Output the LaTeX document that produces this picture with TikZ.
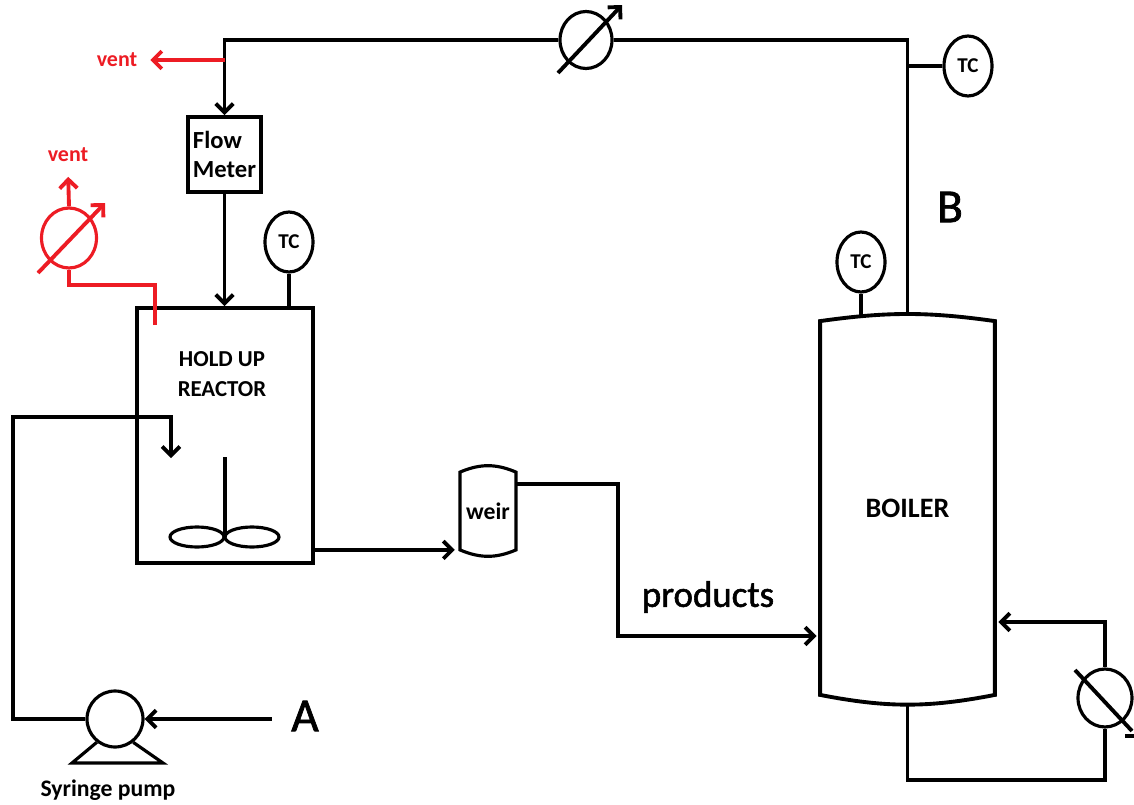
\documentclass[tikz,border=0pt]{standalone}
\usepackage{fontspec}
\setmainfont{Carlito}
\newfontfamily\heavyfont{Carlito}[FakeBold=1.5]
\usetikzlibrary{arrows.meta}
\usetikzlibrary{shapes.geometric}
\usetikzlibrary{positioning}
\definecolor{paintred}{RGB}{237,28,36}

\begin{document}
\begin{tikzpicture}[x=0.02cm,y=-0.02cm,line width=2.2pt,
  >={Straight Barb[length=5pt,width=10pt]},
  every node/.style={font=\bfseries\fontsize{13}{17}\selectfont},
  box/.style={draw,rectangle,inner sep=0pt},
  tc/.style={draw,ellipse,line width=1.8pt,inner sep=0pt,minimum width=0.96cm,minimum height=1.2cm,font=\bfseries\fontsize{12}{14}\selectfont},
  hx/.style={draw,ellipse,line width=1.8pt,inner sep=0pt,minimum width=1.04cm,minimum height=1.14cm},
  blade/.style={draw,ellipse,line width=1.8pt,inner sep=0pt,minimum width=1.08cm,minimum height=0.4cm},
  ventlbl/.style={text=paintred,font=\bfseries\fontsize{12.5}{14}\selectfont},
  biglbl/.style={inner sep=10pt,font=\heavyfont\fontsize{27}{30}\selectfont}]
  \useasboundingbox (0,0) rectangle (1134,805);

  \node[box,align=left,minimum width=1.46cm,minimum height=1.5cm,font=\bfseries\fontsize{14}{17}\selectfont] (flowmeter) at (224.5,154.5) {Flow\\Meter};
  \node[box,minimum width=3.52cm,minimum height=5.1cm] (reactor) at (225,435.5) {};
  \node[align=center] (reactorlbl) at (222,374) {HOLD UP\\REACTOR};
  \node[tc] (tc1) at (289,242) {TC};
  \node[tc] (tc2) at (968,66) {TC};
  \node[tc] (tc3) at (861,262) {TC};
  \node[hx] (hx1) at (586,40) {};
  \node[hx,paintred,minimum width=1.1cm,minimum height=1.2cm] (hx2) at (69,238) {};
  \node[hx,minimum width=1.08cm,minimum height=1.16cm] (hx3) at (1105,698) {};
  \node[ventlbl] (vent1) at (117,60) {vent};
  \node[ventlbl] (vent2) at (68,155) {vent};
  \node[minimum width=1.04cm,minimum height=1.48cm,inner sep=0pt,font=\bfseries\fontsize{13.5}{15}\selectfont] (weir) at (488,511) {weir};
  \node[minimum width=3.42cm,minimum height=7.4cm,inner sep=0pt,font=\bfseries\fontsize{16}{18}\selectfont] (boiler) at (907.5,508) {BOILER};
  \node[draw,circle,line width=1.8pt,minimum size=1.12cm,inner sep=0pt] (pump) at (115,719) {};
  \node[font=\bfseries\fontsize{13.5}{16}\selectfont] (pumplbl) at (108,790) {Syringe pump};
  \node[biglbl] (A) at (305,716) {A};
  \node[biglbl] (B) at (950,207) {B};
  \node[font=\heavyfont\fontsize{21}{24}\selectfont] (products) at (708,597) {products};
  \node[blade] (blade1) at (197,537) {};
  \node[blade] (blade2) at (252,537) {};
  \coordinate (shafttop) at (225,457);
  \coordinate (redin) at (155,325);
  \coordinate (feedtop) at (13,417);
  \coordinate (feedin) at (171,458);
  \coordinate (bend) at (618,636);
  \coordinate (loop) at (1105,780);
  \coordinate (ret) at (1105,622);

  \draw[line width=1.8pt] (weir.north west) to[bend left=23] (weir.north east) -- (weir.south east) to[bend left=23] (weir.south west) -- cycle;
  \draw (boiler.north west) to[bend left=8] (boiler.north east) -- (boiler.south east) to[bend left=11] (boiler.south west) -- cycle;
  \draw[line width=1.8pt] (pump.-128) -- (72,763) -- (163,763) -- (pump.-52);
  \draw (shafttop) -- (shafttop |- blade1.east);

  \draw[->] (hx1.west) -| (flowmeter.north);
  \draw (hx1.east) -| ([shift={(0,-7)}]boiler.north);
  \draw[->] ([shift={(-28,33)}]hx1.center) -- ([shift={(36,-35)}]hx1.center);
  \draw[paintred,->,shorten >=3pt] (flowmeter.north |- vent1.east) -- (vent1.east);
  \draw[->] (flowmeter.south) -- (flowmeter.south |- reactor.north);
  \draw (tc1.south) -- (tc1.south |- reactor.north);
  \draw (tc2.west) -- (tc2.west -| boiler.north);
  \draw ([shift={(0,-5)}]tc3.south |- boiler.north) -- (tc3.south);

  \draw[paintred] (redin) -- ++(0,-40) -| (hx2.south);
  \draw[paintred,->,shorten >=4pt] (hx2.north) -- (vent2.south);
  \draw[paintred,->] ([shift={(-31,35)}]hx2.center) -- ([shift={(36,-35)}]hx2.center);

  \draw[->] (pump.east -| A.west) -- (pump.east);
  \draw[->] (pump.west) -| (feedtop) -| (feedin);
  \draw[->,shorten >=3pt] ([shift={(0,-15)}]reactor.south east) -- ([shift={(0,-15)}]reactor.south east -| weir.west);
  \draw[->,shorten >=2pt] ([shift={(0,12)}]weir.north east) -| (bend) -- (bend -| boiler.west);

  \draw ([shift={(0,10)}]boiler.south) |- (loop) -- (hx3.south);
  \draw[->,shorten >=2pt] (hx3.north) -- (ret) -- (ret -| boiler.east);
  \draw ([shift={(-30,-28)}]hx3.center) -- ([shift={(27,33)}]hx3.center);
  \draw ([shift={(20,38)}]hx3.center) -- ([shift={(29,38)}]hx3.center);
\end{tikzpicture}
\end{document}
